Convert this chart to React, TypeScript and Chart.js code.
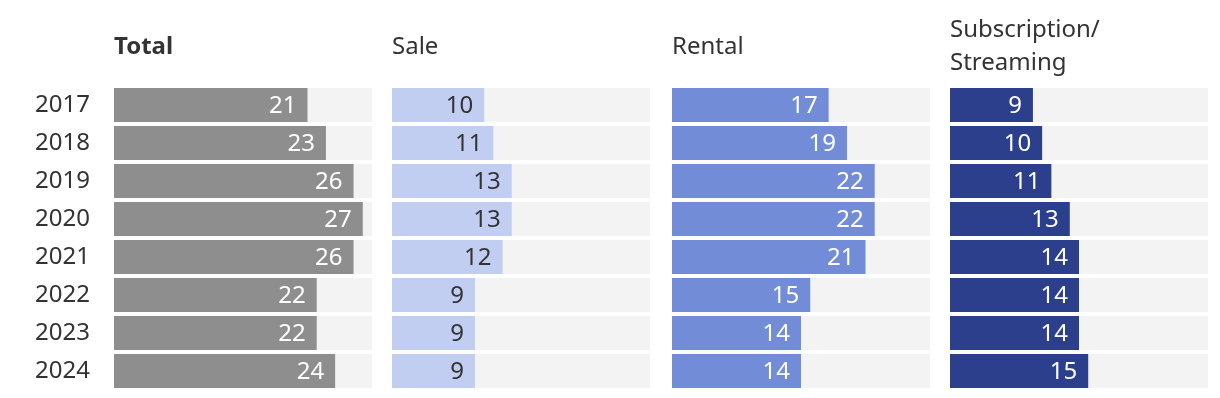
import React, { useEffect, useRef } from "react";
import { Chart, registerables } from "chart.js";

Chart.register(...registerables);

const years = ["2017", "2018", "2019", "2020", "2021", "2022", "2023", "2024"];
const totalValues = [21, 23, 26, 27, 26, 22, 22, 24];
const saleValues = [10, 11, 13, 13, 12, 9, 9, 9];
const rentalValues = [17, 19, 22, 22, 21, 15, 14, 14];
const subscriptionValues = [9, 10, 11, 13, 14, 14, 14, 15];
const panelTitles = [["Total"], ["Sale"], ["Rental"], ["Subscription/", "Streaming"]];
const axisMax = 28;

const FONT = "'Noto Sans', 'Open Sans', sans-serif";
const FS = 24;

type PanelDef = {
  title: string[];
  bold: boolean;
  values: number[];
  color: string;
  labelColor: string;
  left: number;
  showYears: boolean;
};

const panels: PanelDef[] = [
  { title: panelTitles[0], bold: true, values: totalValues, color: "#8e8e8e", labelColor: "#ffffff", left: 114, showYears: true },
  { title: panelTitles[1], bold: false, values: saleValues, color: "#c2cef1", labelColor: "#333333", left: 392.3, showYears: false },
  { title: panelTitles[2], bold: false, values: rentalValues, color: "#728cd8", labelColor: "#ffffff", left: 671.5, showYears: false },
  { title: panelTitles[3], bold: false, values: subscriptionValues, color: "#2c3f8c", labelColor: "#ffffff", left: 950, showYears: false },
];

const PANEL_W = 258;
const H = 398;
const AREA_TOP = 86;
const AREA_BOTTOM = 390;

const trackPlugin = {
  id: "track",
  beforeDatasetsDraw(chart: any) {
    const { ctx, chartArea } = chart;
    const meta = chart.getDatasetMeta(0);
    ctx.save();
    ctx.fillStyle = "#f3f3f3";
    meta.data.forEach((el: any) => {
      const p = el.getProps(["y", "height"], true);
      ctx.fillRect(chartArea.left, p.y - p.height / 2, chartArea.right - chartArea.left, p.height);
    });
    ctx.restore();
  },
};

const labelPlugin = {
  id: "valueLabels",
  afterDatasetsDraw(chart: any, _args: any, opts: any) {
    const { ctx } = chart;
    const meta = chart.getDatasetMeta(0);
    const data = chart.data.datasets[0].data;
    ctx.save();
    ctx.font = `${FS}px ${FONT}`;
    ctx.fillStyle = opts.color;
    ctx.textAlign = "right";
    ctx.textBaseline = "middle";
    meta.data.forEach((el: any, i: number) => {
      const p = el.getProps(["x", "y"], true);
      ctx.fillText(String(data[i]), p.x - 11, p.y + 1);
    });
    ctx.restore();
  },
};

const titlePlugin = {
  id: "panelTitle",
  afterDraw(chart: any, _args: any, opts: any) {
    const { ctx, chartArea } = chart;
    const lines: string[] = opts.lines;
    ctx.save();
    ctx.font = `${opts.bold ? "bold " : ""}${FS}px ${FONT}`;
    ctx.fillStyle = "#333333";
    ctx.textAlign = "left";
    ctx.textBaseline = "middle";
    const lh = 33;
    const startY = 47 - ((lines.length - 1) * lh) / 2;
    lines.forEach((ln, i) => ctx.fillText(ln, chartArea.left, startY + i * lh));
    ctx.restore();
  },
};

function Panel({ def }: { def: PanelDef }) {
  const ref = useRef<HTMLCanvasElement | null>(null);
  const canvasLeft = def.showYears ? 0 : def.left;
  const width = def.showYears ? def.left + PANEL_W : PANEL_W;

  useEffect(() => {
    if (!ref.current) return;
    const chart = new Chart(ref.current, {
      type: "bar",
      data: {
        labels: years,
        datasets: [
          {
            data: def.values,
            backgroundColor: def.color,
            borderWidth: 0,
            categoryPercentage: 1,
            barPercentage: 34 / 38,
          },
        ],
      },
      options: {
        indexAxis: "y",
        responsive: false,
        animation: false,
        devicePixelRatio: 1,
        layout: { padding: { top: AREA_TOP, bottom: H - AREA_BOTTOM, left: 0, right: 0 } },
        plugins: {
          legend: { display: false },
          tooltip: { enabled: false },
          title: { display: false },
          valueLabels: { color: def.labelColor },
          panelTitle: { lines: def.title, bold: def.bold },
        } as any,
        scales: {
          x: { display: false, min: 0, max: axisMax },
          y: {
            display: def.showYears,
            grid: { display: false, drawTicks: false },
            border: { display: false },
            ticks: {
              padding: 24,
              color: "#333333",
              autoSkip: false,
              font: { family: FONT, size: FS },
            },
            afterFit: (scale: any) => {
              if (def.showYears) scale.width = def.left;
              scale.paddingTop = 0;
              scale.paddingBottom = 0;
            },
          },
        },
      },
      plugins: [trackPlugin, labelPlugin, titlePlugin],
    });
    return () => chart.destroy();
  }, []);

  return (
    <canvas
      ref={ref}
      width={width}
      height={H}
      style={{ position: "absolute", left: canvasLeft, top: 0, width, height: H }}
    />
  );
}

export default function App() {
  useEffect(() => {
    document.body.style.margin = "0";
  }, []);
  return (
    <div style={{ position: "relative", width: 1220, height: H, background: "#ffffff", overflow: "hidden" }}>
      {panels.map((p, i) => (
        <Panel key={i} def={p} />
      ))}
    </div>
  );
}
